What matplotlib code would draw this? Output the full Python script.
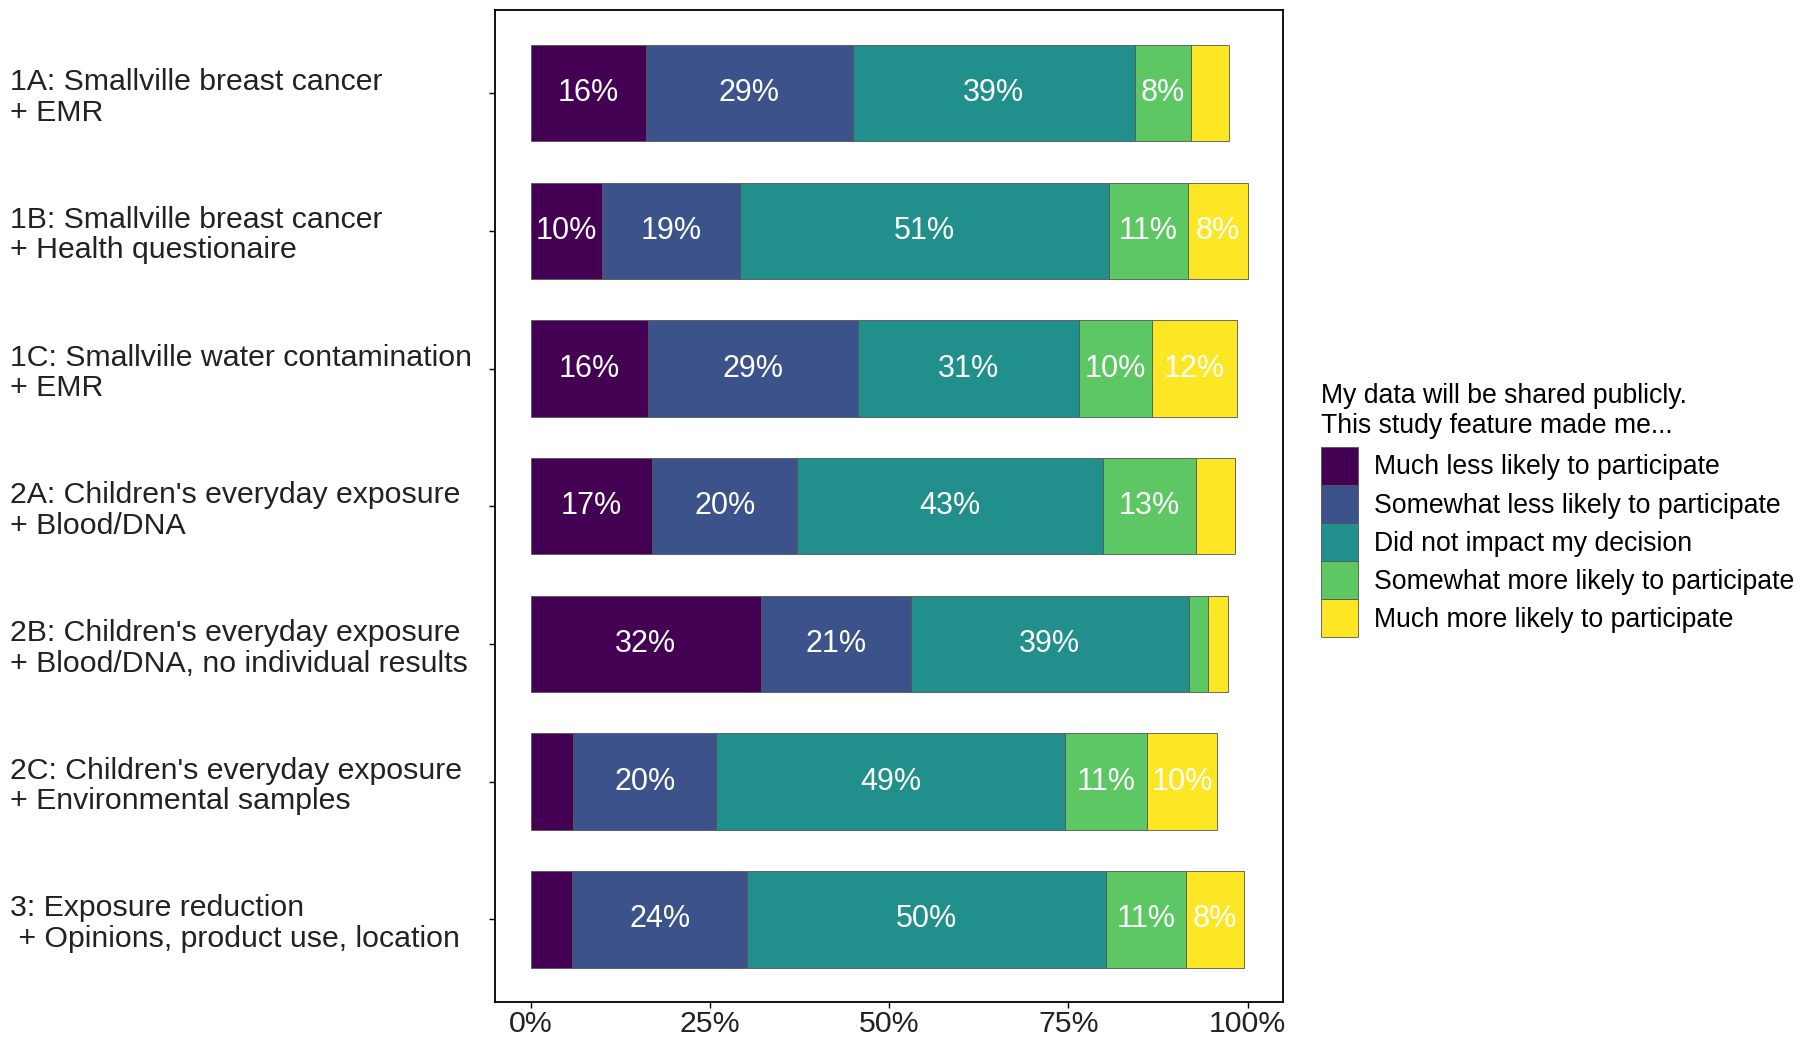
import matplotlib
matplotlib.use('Agg')
import matplotlib.pyplot as plt
import numpy as np

plt.rcParams['font.family'] = ['Liberation Sans', 'DejaVu Sans']

SCENARIOS = [
    '1A: Smallville breast cancer\n+ EMR',
    '1B: Smallville breast cancer\n+ Health questionaire',
    '1C: Smallville water contamination\n+ EMR',
    "2A: Children's everyday exposure\n+ Blood/DNA",
    "2B: Children's everyday exposure\n+ Blood/DNA, no individual results",
    "2C: Children's everyday exposure\n+ Environmental samples",
    '3: Exposure reduction\n + Opinions, product use, location',
]
RESPONSES = [
    'Much less likely to participate',
    'Somewhat less likely to participate',
    'Did not impact my decision',
    'Somewhat more likely to participate',
    'Much more likely to participate',
]
# percent of respondents, one list per response level (scenario order as above)
much_less = [16.0, 9.9, 16.4, 16.9, 32.1, 5.9, 5.8]
somewhat_less = [28.9, 19.3, 29.3, 20.3, 20.9, 20.0, 24.4]
no_impact = [39.4, 51.4, 30.8, 42.6, 38.8, 48.6, 50.0]
somewhat_more = [7.8, 11.1, 10.2, 13.0, 2.7, 11.4, 11.2]
much_more = [5.3, 8.3, 11.8, 5.5, 2.8, 9.9, 8.1]

COLORS = ['#440154', '#3B528B', '#21908C', '#5DC863', '#FDE725']
LABEL_MIN = 7.5


def main():
    fig = plt.figure(figsize=(18, 10.47), dpi=100)
    ax = fig.add_axes([0.275, 0.043, 0.438, 0.947])

    series = [much_less, somewhat_less, no_impact, somewhat_more, much_more]
    y = np.arange(len(SCENARIOS))
    left = np.zeros(len(SCENARIOS))
    for values, color, name in zip(series, COLORS, RESPONSES):
        vals = np.array(values) / 100
        ax.barh(y, vals, left=left, height=0.7, color=color,
                edgecolor='#555555', linewidth=0.6, label=name)
        for yi, l, v in zip(y, left, vals):
            if v * 100 >= LABEL_MIN:
                ax.text(l + v / 2, yi, f'{round(v * 100)}%', color='white',
                        ha='center', va='center', fontsize=22)
        left += vals

    ax.set_ylim(len(SCENARIOS) - 0.4, -0.6)
    ax.set_xlim(-0.05, 1.05)
    ax.set_yticks(y)
    ax.set_yticklabels(SCENARIOS, ha='left', fontsize=21.8, color='#222222',
                       linespacing=1.12)
    ax.tick_params(axis='y', length=4, width=1, pad=345)
    ticks = [0, 0.25, 0.5, 0.75, 1.0]
    ax.set_xticks(ticks)
    ax.set_xticklabels(['0%', '25%', '50%', '75%', '100%'], fontsize=21.8,
                       color='#222222')
    ax.tick_params(axis='x', length=4, width=1, pad=2)
    for s in ax.spines.values():
        s.set_linewidth(1.3)

    leg = ax.legend(title='My data will be shared publicly.\nThis study feature made me...',
                    loc='center left', bbox_to_anchor=(0.734, 0.513),
                    bbox_transform=fig.transFigure, frameon=False,
                    fontsize=19.2, title_fontsize=19.2, handlelength=1.38,
                    handleheight=1.82, labelspacing=0, handletextpad=0.6,
                    borderpad=0, borderaxespad=0, alignment='left')
    leg._legend_box.sep = 6
    for h in leg.legend_handles:
        h.set_edgecolor('#555555')

    fig.savefig('out.png', dpi=100)


if __name__ == '__main__':
    main()
